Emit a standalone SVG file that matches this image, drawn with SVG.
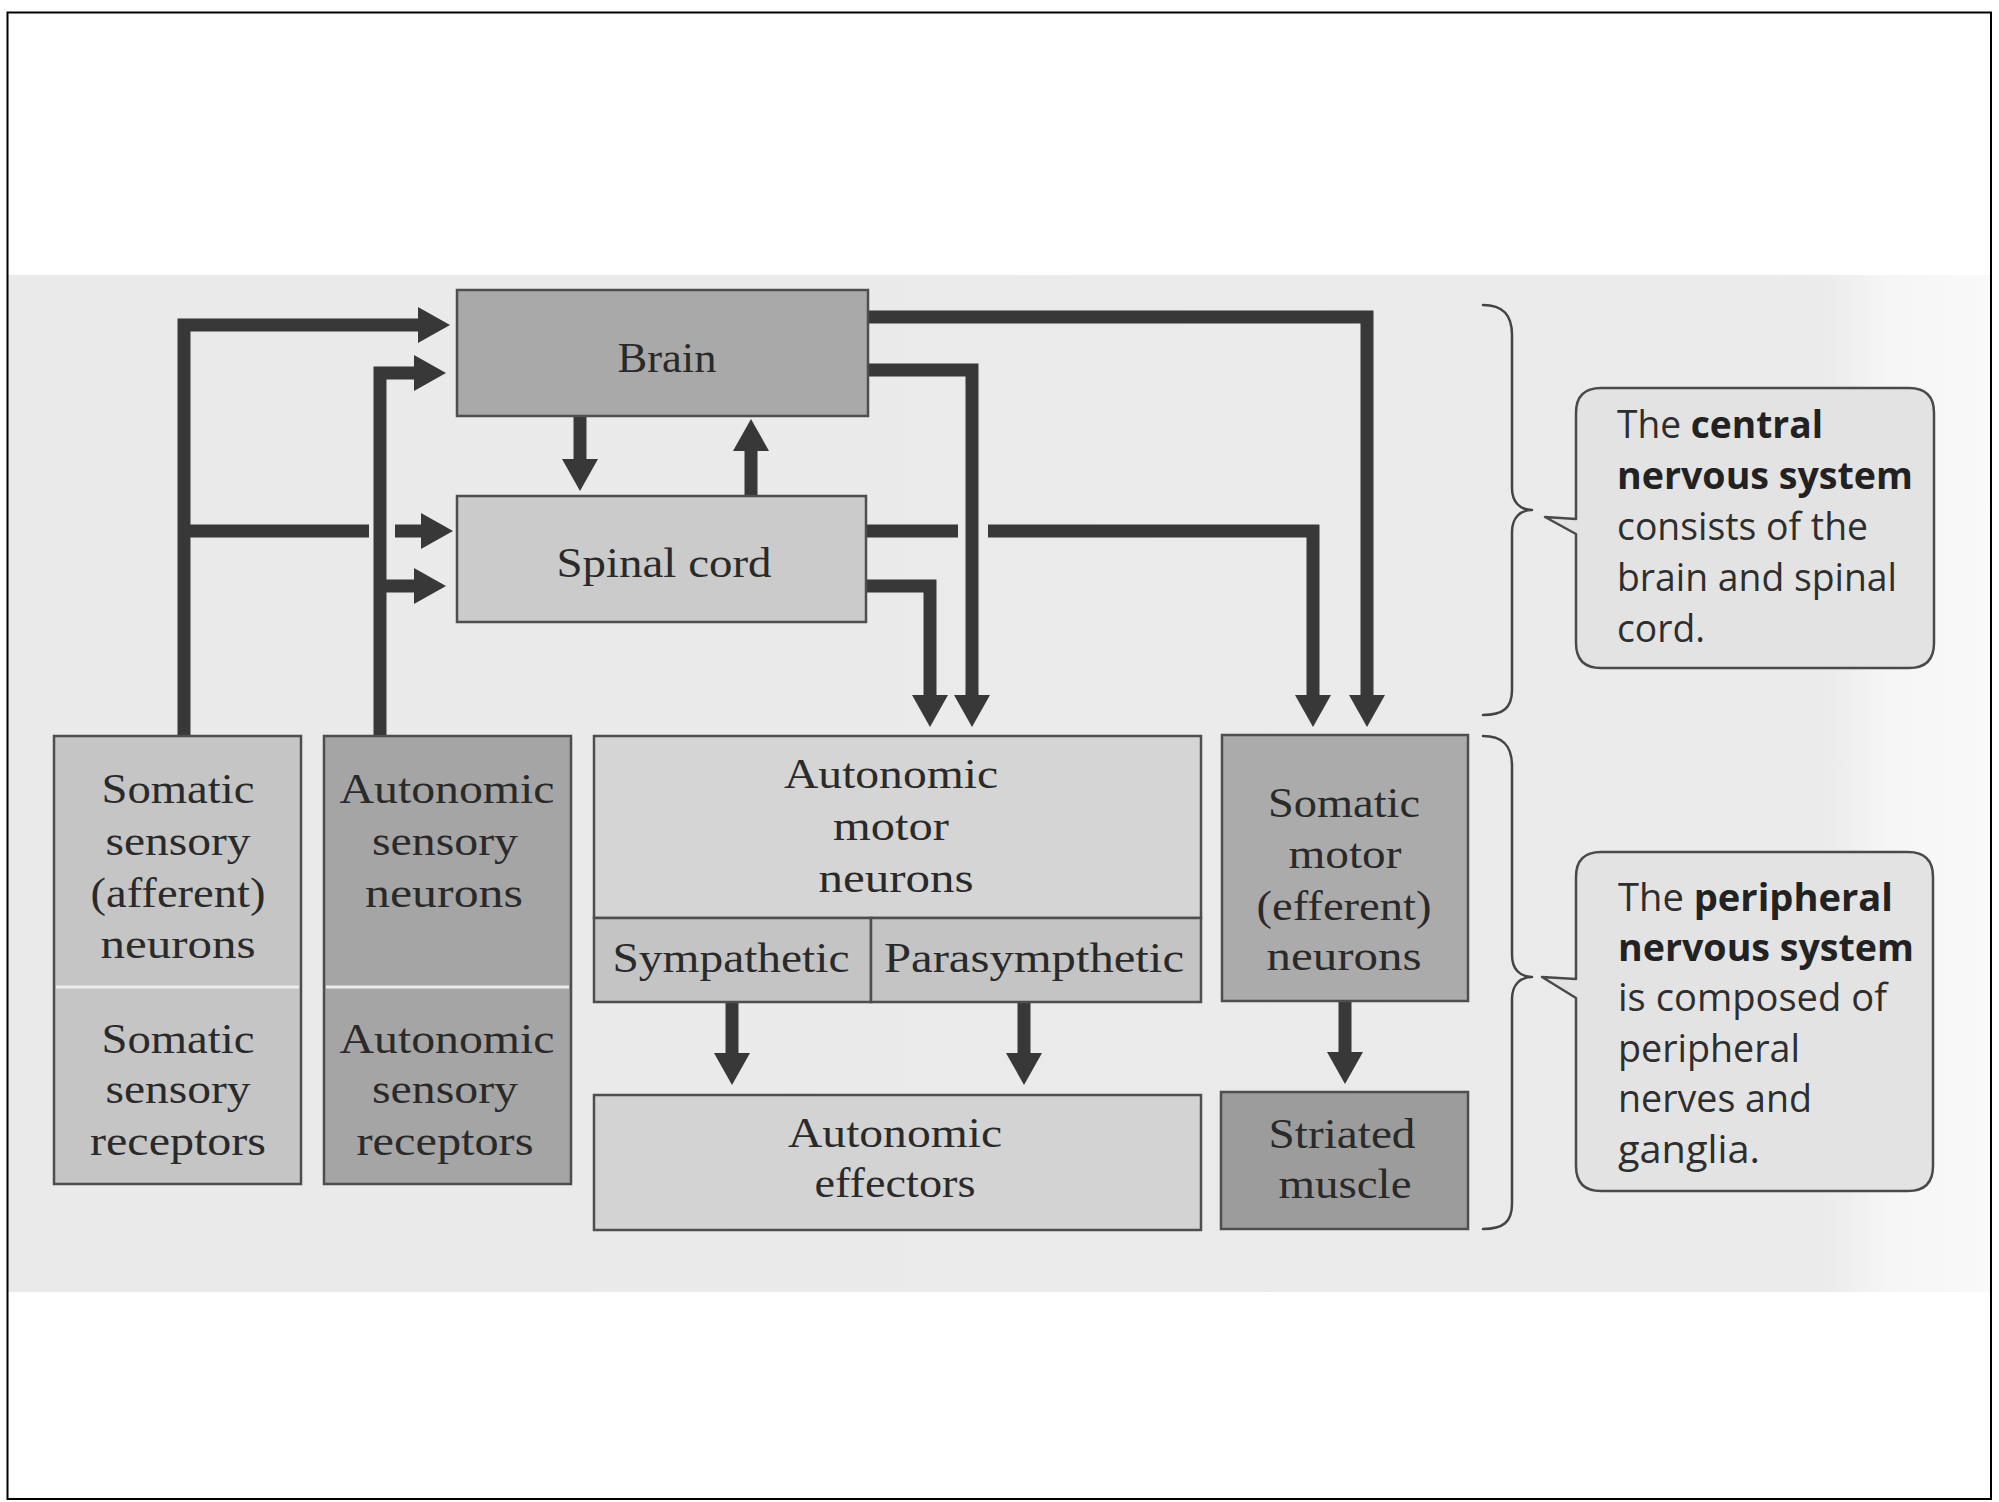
<svg xmlns="http://www.w3.org/2000/svg" width="1999" height="1502" viewBox="0 0 1999 1502">
<style>
.box{stroke:#4e4e4e;stroke-width:2.5}
.lbl{font-family:"Liberation Serif","Times New Roman",serif;font-size:43px;fill:#2a2a2a;text-anchor:middle}
.note{font-family:"Open Sans","Noto Sans","Liberation Sans",sans-serif;font-size:38px;fill:#2e2e2e}
.b{font-weight:bold;fill:#222}
.wire{fill:none;stroke:#383838;stroke-width:13;stroke-linejoin:miter;stroke-linecap:butt}
.arr{marker-end:url(#head)}
.brace{fill:none;stroke:#444;stroke-width:2.5;stroke-linecap:round;stroke-linejoin:round}
.call{fill:#e3e3e3;stroke:#4a4a4a;stroke-width:2.5;stroke-linejoin:round}
.div{stroke:#ececec;stroke-width:3}
</style>
<defs>
<marker id="head" viewBox="0 0 32 36" markerWidth="32" markerHeight="36" refX="0" refY="18" orient="auto" markerUnits="userSpaceOnUse">
<path d="M0,0 L32,18 L0,36 Z" fill="#383838"/>
</marker>
<linearGradient id="panel" x1="0" y1="0" x2="1" y2="0">
<stop offset="0" stop-color="#eaeaea"/>
<stop offset="0.915" stop-color="#ebebeb"/>
<stop offset="0.95" stop-color="#f6f6f6"/>
<stop offset="1" stop-color="#f9f9f9"/>
</linearGradient>
</defs>
<rect x="0" y="0" width="1999" height="1502" fill="#ffffff"/>
<rect x="8" y="275" width="1983" height="1017" fill="url(#panel)"/>
<rect x="7.5" y="12.5" width="1983.5" height="1486.5" fill="none" stroke="#000" stroke-width="2"/>

<g id="connectors">
<polyline class="wire arr" points="184,736 184,325 418,325"/>
<line class="wire" x1="184" y1="531" x2="369" y2="531"/>
<line class="wire arr" x1="395" y1="531" x2="421" y2="531"/>
<polyline class="wire arr" points="380,736 380,373 414,373"/>
<line class="wire arr" x1="380" y1="586" x2="414" y2="586"/>
<line class="wire arr" x1="580" y1="416" x2="580" y2="459"/>
<line class="wire arr" x1="751" y1="496" x2="751" y2="451"/>
<polyline class="wire arr" points="868,317 1367,317 1367,695"/>
<polyline class="wire arr" points="868,370 972,370 972,695"/>
<line class="wire" x1="866" y1="531" x2="958" y2="531"/>
<polyline class="wire arr" points="988,531 1313,531 1313,695"/>
<polyline class="wire arr" points="866,586 930,586 930,695"/>
<line class="wire arr" x1="732" y1="1002" x2="732" y2="1053"/>
<line class="wire arr" x1="1024" y1="1002" x2="1024" y2="1053"/>
<line class="wire arr" x1="1345" y1="1002" x2="1345" y2="1052"/>
</g>

<g id="brain">
<rect class="box" x="457" y="290" width="411" height="126" fill="#a9a9a9"/>
<text class="lbl" x="667" y="372" textLength="99" lengthAdjust="spacingAndGlyphs">Brain</text>
</g>
<g id="spinal-cord">
<rect class="box" x="457" y="496" width="409" height="126" fill="#cbcbcb"/>
<text class="lbl" x="664" y="577" textLength="215" lengthAdjust="spacingAndGlyphs">Spinal cord</text>
</g>

<g id="somatic-sensory">
<rect class="box" x="54" y="736" width="247" height="448" fill="#c5c5c5"/>
<line class="div" x1="56" y1="987" x2="299" y2="987"/>
<text class="lbl" x="178" y="803" textLength="153" lengthAdjust="spacingAndGlyphs">Somatic</text>
<text class="lbl" x="178" y="855" textLength="145" lengthAdjust="spacingAndGlyphs">sensory</text>
<text class="lbl" x="178" y="907" textLength="175" lengthAdjust="spacingAndGlyphs">(afferent)</text>
<text class="lbl" x="178" y="958" textLength="155" lengthAdjust="spacingAndGlyphs">neurons</text>
<text class="lbl" x="178" y="1053" textLength="153" lengthAdjust="spacingAndGlyphs">Somatic</text>
<text class="lbl" x="178" y="1103" textLength="145" lengthAdjust="spacingAndGlyphs">sensory</text>
<text class="lbl" x="178" y="1155" textLength="176" lengthAdjust="spacingAndGlyphs">receptors</text>
</g>

<g id="autonomic-sensory">
<rect class="box" x="324" y="736" width="247" height="448" fill="#a5a5a5"/>
<line class="div" x1="326" y1="987" x2="569" y2="987"/>
<text class="lbl" x="447" y="803" textLength="215" lengthAdjust="spacingAndGlyphs">Autonomic</text>
<text class="lbl" x="445" y="855" textLength="146" lengthAdjust="spacingAndGlyphs">sensory</text>
<text class="lbl" x="444" y="907" textLength="158" lengthAdjust="spacingAndGlyphs">neurons</text>
<text class="lbl" x="447" y="1053" textLength="215" lengthAdjust="spacingAndGlyphs">Autonomic</text>
<text class="lbl" x="445" y="1103" textLength="146" lengthAdjust="spacingAndGlyphs">sensory</text>
<text class="lbl" x="445" y="1155" textLength="177" lengthAdjust="spacingAndGlyphs">receptors</text>
</g>

<g id="autonomic-motor">
<rect class="box" x="594" y="736" width="607" height="182" fill="#d5d5d5"/>
<text class="lbl" x="891" y="788" textLength="214" lengthAdjust="spacingAndGlyphs">Autonomic</text>
<text class="lbl" x="891" y="840" textLength="116" lengthAdjust="spacingAndGlyphs">motor</text>
<text class="lbl" x="896" y="892" textLength="155" lengthAdjust="spacingAndGlyphs">neurons</text>
</g>
<g id="sympathetic">
<rect class="box" x="594" y="918" width="277" height="84" fill="#c4c4c4"/>
<text class="lbl" x="731" y="972" textLength="237" lengthAdjust="spacingAndGlyphs">Sympathetic</text>
</g>
<g id="parasympathetic">
<rect class="box" x="871" y="918" width="330" height="84" fill="#c4c4c4"/>
<text class="lbl" x="1034" y="972" textLength="300" lengthAdjust="spacingAndGlyphs">Parasympthetic</text>
</g>

<g id="somatic-motor">
<rect class="box" x="1222" y="735" width="246" height="266" fill="#ababab"/>
<text class="lbl" x="1344" y="817" textLength="152" lengthAdjust="spacingAndGlyphs">Somatic</text>
<text class="lbl" x="1345" y="868" textLength="113" lengthAdjust="spacingAndGlyphs">motor</text>
<text class="lbl" x="1344" y="920" textLength="175" lengthAdjust="spacingAndGlyphs">(efferent)</text>
<text class="lbl" x="1344" y="970" textLength="155" lengthAdjust="spacingAndGlyphs">neurons</text>
</g>

<g id="autonomic-effectors">
<rect class="box" x="594" y="1095" width="607" height="135" fill="#d3d3d3"/>
<text class="lbl" x="895" y="1147" textLength="214" lengthAdjust="spacingAndGlyphs">Autonomic</text>
<text class="lbl" x="895" y="1197" textLength="161" lengthAdjust="spacingAndGlyphs">effectors</text>
</g>
<g id="striated-muscle">
<rect class="box" x="1221" y="1092" width="247" height="137" fill="#9c9c9c"/>
<text class="lbl" x="1342" y="1148" textLength="147" lengthAdjust="spacingAndGlyphs">Striated</text>
<text class="lbl" x="1345" y="1198" textLength="133" lengthAdjust="spacingAndGlyphs">muscle</text>
</g>

<g id="cns-brace">
<path class="brace" d="M1483,305 C1503,305 1512,315 1512,335 L1512,488 C1512,502 1520,510 1532,510 C1520,510 1512,518 1512,532 L1512,690 C1512,708 1503,715 1483,715"/>
</g>
<g id="cns-callout">
<path class="call" d="M1601,388 H1909 Q1934,388 1934,413 V643 Q1934,668 1909,668 H1601 Q1576,668 1576,643 V534 L1545,517 L1576,519 V413 Q1576,388 1601,388 Z"/>
<text class="note" x="1617" y="438" textLength="206" lengthAdjust="spacingAndGlyphs">The <tspan class="b">central</tspan></text>
<text class="note b" x="1617" y="489" textLength="296" lengthAdjust="spacingAndGlyphs">nervous system</text>
<text class="note" x="1617" y="540" textLength="251" lengthAdjust="spacingAndGlyphs">consists of the</text>
<text class="note" x="1617" y="591" textLength="280" lengthAdjust="spacingAndGlyphs">brain and spinal</text>
<text class="note" x="1617" y="642" textLength="88" lengthAdjust="spacingAndGlyphs">cord.</text>
</g>

<g id="pns-brace">
<path class="brace" d="M1483,736 C1503,736 1512,746 1512,766 L1512,955 C1512,969 1520,977 1532,977 C1520,977 1512,985 1512,999 L1512,1204 C1512,1222 1503,1229 1483,1229"/>
</g>
<g id="pns-callout">
<path class="call" d="M1601,852 H1908 Q1933,852 1933,877 V1166 Q1933,1191 1908,1191 H1601 Q1576,1191 1576,1166 V998 L1542,977 L1576,979 V877 Q1576,852 1601,852 Z"/>
<text class="note" x="1618" y="911" textLength="275" lengthAdjust="spacingAndGlyphs">The <tspan class="b">peripheral</tspan></text>
<text class="note b" x="1618" y="961" textLength="296" lengthAdjust="spacingAndGlyphs">nervous system</text>
<text class="note" x="1618" y="1011" textLength="269" lengthAdjust="spacingAndGlyphs">is composed of</text>
<text class="note" x="1618" y="1062" textLength="182" lengthAdjust="spacingAndGlyphs">peripheral</text>
<text class="note" x="1618" y="1112" textLength="194" lengthAdjust="spacingAndGlyphs">nerves and</text>
<text class="note" x="1618" y="1163" textLength="142" lengthAdjust="spacingAndGlyphs">ganglia.</text>
</g>
</svg>
